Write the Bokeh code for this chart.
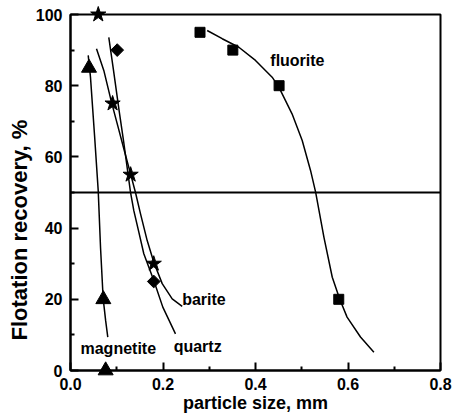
import numpy as np
from bokeh.plotting import figure
from bokeh.models import Span, FixedTicker, ColumnDataSource, Title
from bokeh.core.properties import value
from bokeh.embed import file_html
from bokeh.resources import INLINE

# Measured flotation recovery (%) versus particle size (mm)
magnetite_size = [0.040, 0.071, 0.076]
magnetite_rec = [85, 20, 0]

barite_size = [0.060, 0.091, 0.130, 0.180]
barite_rec = [100, 75, 55, 30]

quartz_size = [0.101, 0.180]
quartz_rec = [90, 25]

fluorite_size = [0.280, 0.351, 0.451, 0.580]
fluorite_rec = [95, 90, 80, 20]

# Fitted recovery curves, sampled along each trend line
magnetite_fit_size = [0.0383, 0.0432, 0.0520, 0.0599, 0.0649, 0.0707, 0.0760, 0.0806]
magnetite_fit_rec = [88.5, 82.4, 66.0, 50.6, 34.6, 20.1, 14.0, 9.4]

barite_fit_size = [0.0562, 0.0720, 0.0886, 0.1021, 0.1163, 0.1297, 0.1405,
                   0.1514, 0.1658, 0.1801, 0.1983, 0.2199, 0.2415]
barite_fit_rec = [90.4, 84.3, 75.4, 68.8, 61.8, 55.3, 50.0,
                  44.0, 36.5, 30.4, 24.4, 20.1, 18.0]

quartz_fit_size = [0.0828, 0.0930, 0.1051, 0.1146, 0.1243, 0.1297, 0.1369,
                   0.1470, 0.1585, 0.1801, 0.1996, 0.2270]
quartz_fit_rec = [93.6, 84.3, 73.0, 64.6, 55.3, 50.1, 44.9,
                  39.3, 32.8, 25.3, 17.8, 10.3]

fluorite_fit_size = [0.2955, 0.328, 0.364, 0.400, 0.436, 0.4505, 0.479, 0.501,
                     0.519, 0.530, 0.548, 0.566, 0.582, 0.598, 0.627, 0.656]
fluorite_fit_rec = [95.5, 93.2, 90.8, 87.1, 82.4, 79.6, 72.1, 64.6,
                    56.2, 50.1, 37.4, 26.2, 20.1, 15.0, 9.4, 5.1]

x_ticks = [0.0, 0.2, 0.4, 0.6, 0.8]
x_tick_labels = ["0.0", "0.2", "0.4", "0.6", "0.8"]
y_ticks = [0, 20, 40, 60, 80, 100]

FONT = "Liberation Sans"

p = figure(width=455, height=417, x_range=(0, 0.8), y_range=(0, 100),
           output_backend="svg", toolbar_location=None,
           min_border_left=70, min_border_right=15,
           min_border_top=14, min_border_bottom=47)
p.background_fill_color = "white"
p.border_fill_color = "white"
p.outline_line_color = "black"
p.outline_line_width = 2
p.xgrid.visible = False
p.ygrid.visible = False

p.xaxis.ticker = FixedTicker(ticks=x_ticks, minor_ticks=[0.1, 0.3, 0.5, 0.7])
p.xaxis.major_label_overrides = {t: s for t, s in zip(x_ticks, x_tick_labels)}
p.yaxis.ticker = FixedTicker(ticks=y_ticks, minor_ticks=[10, 30, 50, 70, 90])

for ax in (p.xaxis[0], p.yaxis[0]):
    ax.axis_line_width = 2
    ax.axis_line_color = "black"
    ax.major_tick_line_width = 2
    ax.minor_tick_line_width = 2
    ax.major_tick_in = 8
    ax.major_tick_out = 0
    ax.minor_tick_in = 4
    ax.minor_tick_out = 0
    ax.major_label_text_font = FONT
    ax.major_label_text_font_style = "bold"
    ax.major_label_text_font_size = "16px"
    ax.major_label_text_color = "black"
    ax.axis_label_text_font = FONT
    ax.axis_label_text_font_style = "bold"
    ax.axis_label_text_color = "black"

p.xaxis.axis_label = "particle size, mm"
p.xaxis.axis_label_text_font_size = "18px"
p.xaxis.major_label_standoff = 7
p.xaxis.axis_label_standoff = 0

p.yaxis.major_label_standoff = 8

# vertical axis title, set in its own left-hand panel, starting above the x axis
p.add_layout(Title(text="Flotation recovery,  %", align="left", offset=30,
                   text_font=FONT, text_font_style="bold", text_font_size="22px",
                   text_color="black", standoff=2), "left")

# 50 % recovery reference line
p.add_layout(Span(location=50, dimension="width", line_color="black", line_width=2))

# fitted curves
for xs, ys in ((magnetite_fit_size, magnetite_fit_rec),
               (barite_fit_size, barite_fit_rec),
               (quartz_fit_size, quartz_fit_rec),
               (fluorite_fit_size, fluorite_fit_rec)):
    p.line(xs, ys, line_color="black", line_width=1.5)

# measured points (overlay level so markers on the frame edge are not clipped)
p.scatter(magnetite_size, magnetite_rec, marker="triangle", size=15,
          fill_color="black", line_color="black", level="overlay")
p.scatter(barite_size, barite_rec, marker="star", size=16,
          fill_color="black", line_color="black", level="overlay")
p.scatter(quartz_size, quartz_rec, marker="square", angle=np.pi / 4, size=9,
          fill_color="black", line_color="black", level="overlay")
p.scatter(fluorite_size, fluorite_rec, marker="square", size=10,
          fill_color="black", line_color="black", level="overlay")

# mineral names beside their curves
names = ColumnDataSource(dict(
    x=[0.432, 0.2415, 0.223, 0.0216],
    y=[87.0, 19.9, 6.8, 6.2],
    text=["fluorite", "barite", "quartz", "magnetite"],
))
p.text(x="x", y="y", text="text", source=names,
       text_font=value(FONT), text_font_style="bold", text_font_size="16px",
       text_color="black", text_align="left", text_baseline="alphabetic")

open("out.html", "w").write(file_html(p, INLINE))
